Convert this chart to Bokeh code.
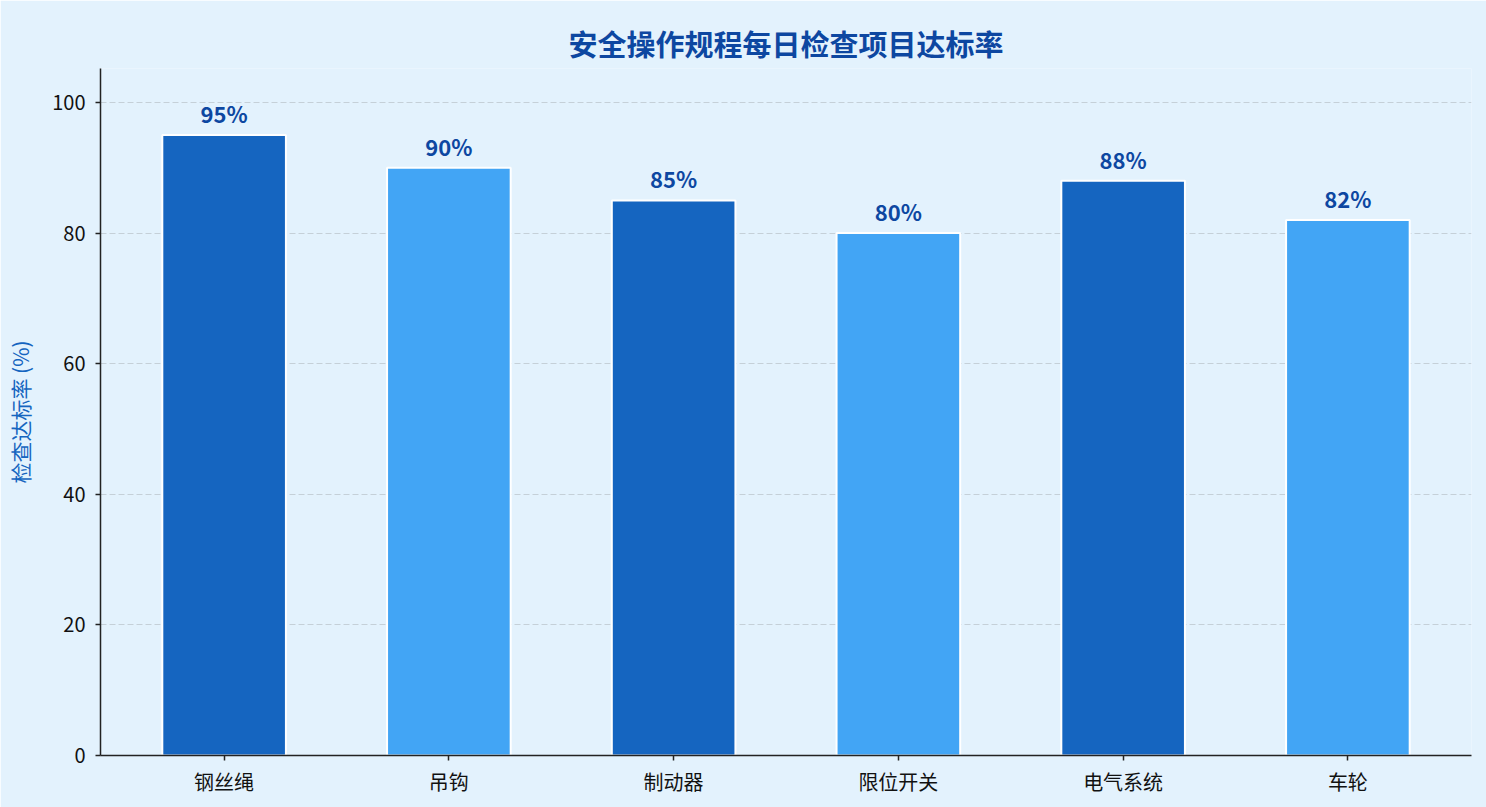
from bokeh.plotting import figure
from bokeh.models import ColumnDataSource, FactorRange, Range1d, FixedTicker, LabelSet, Title
from bokeh.embed import file_html
from bokeh.resources import INLINE
from bokeh.core.properties import value

categories = ["钢丝绳", "吊钩", "制动器", "限位开关", "电气系统", "车轮"]
rates = [95, 90, 85, 80, 88, 82]
bar_colors = ["#1565C0", "#42A5F5", "#1565C0", "#42A5F5", "#1565C0", "#42A5F5"]
y_ticks = [0, 20, 40, 60, 80, 100]
title_text = "安全操作规程每日检查项目达标率"
y_label = "检查达标率 (%)"

FONT = "Noto Sans CJK SC"
BG = "#E3F2FD"

src = ColumnDataSource(dict(
    cat=categories,
    rate=rates,
    color=bar_colors,
    label=[f"{r}%" for r in rates],
))

p = figure(
    x_range=FactorRange(factors=categories, range_padding=0.1 / 6),
    y_range=Range1d(0, 105.2),
    width=1486, height=807,
    output_backend="svg", toolbar_location=None,
    min_border_left=100, min_border_right=15, min_border_top=68, min_border_bottom=52,
    background_fill_color=BG, border_fill_color=BG,
)
p.outline_line_color = None

# the built-in title acts as an invisible spacer next to the frame
p.title.text = "\u00a0"
p.title.text_font = FONT
p.title.text_font_size = "6px"
p.title.text_alpha = 0

main_title = Title(text=title_text, align="center", text_font=FONT,
                   text_font_size="29px", text_font_style="bold",
                   text_color="#0D47A1")
p.add_layout(main_title, "above")

p.vbar(x="cat", top="rate", width=0.55, source=src, fill_color="color",
       line_color="white", line_width=2)

labels = LabelSet(x="cat", y="rate", text="label", source=src,
                  text_align="center", text_baseline="alphabetic", y_offset=12,
                  text_font=value(FONT), text_font_size="22px", text_font_style="bold",
                  text_color="#0D47A1")
p.add_layout(labels)

# grid
p.xgrid.grid_line_color = None
p.ygrid.grid_line_color = "#C5D0D8"
p.ygrid.grid_line_dash = "6 3"
p.ygrid.grid_line_width = 1
p.yaxis.ticker = FixedTicker(ticks=y_ticks)

for ax in (p.xaxis[0], p.yaxis[0]):
    ax.axis_line_color = "#222222"
    ax.axis_line_width = 1.5
    ax.major_tick_line_color = "#222222"
    ax.major_tick_line_width = 1.5
    ax.major_tick_out = 5
    ax.major_tick_in = 0
    ax.minor_tick_line_color = None
    ax.major_label_text_font = FONT
    ax.major_label_text_font_size = "20px"
    ax.major_label_text_color = "#111111"

p.yaxis.major_label_standoff = 10
p.xaxis.major_label_standoff = 6
p.yaxis.axis_label = y_label
p.yaxis.axis_label_text_font = FONT
p.yaxis.axis_label_text_font_size = "21px"
p.yaxis.axis_label_text_font_style = "normal"
p.yaxis.axis_label_text_color = "#1565C0"
p.yaxis.axis_label_standoff = 14

open("out.html", "w").write(file_html(p, INLINE))
